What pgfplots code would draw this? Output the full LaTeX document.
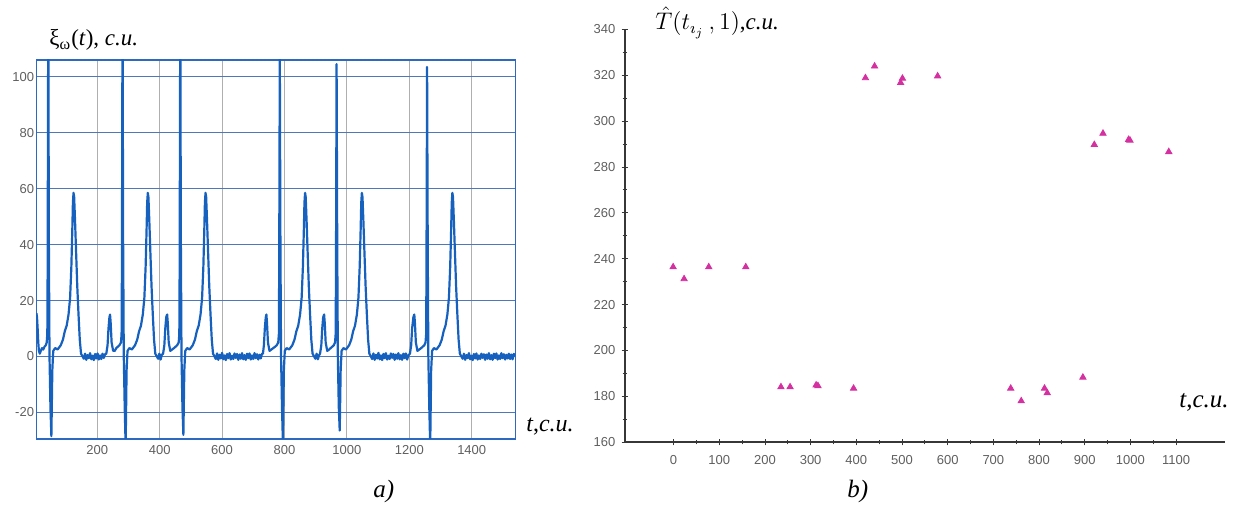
\documentclass[border=0pt]{standalone}
\usepackage{pgfplots}
\pgfplotsset{compat=1.18}
\usepackage{pgfplotstable}
\usepackage{fontspec}
\setmainfont{Liberation Serif}
\newfontfamily\arial{Liberation Sans}
\definecolor{ecg}{RGB}{22,96,190}
\definecolor{boxblue}{RGB}{45,105,190}
\definecolor{hgrid}{RGB}{80,120,185}
\definecolor{vgrid}{RGB}{175,175,175}
\definecolor{tickgray}{RGB}{95,95,95}
\definecolor{mag}{RGB}{212,48,160}
\definecolor{axdark}{RGB}{55,55,55}

\pgfplotstableread{
t v
5 15.5
7 14
9 10
11 5
13 2
16 1
19 2
23 3
27 2.5
31 3.5
35 4
38 5
40 8
41 30
43 125
45 40
47 0
50 -18
53 -28.5
56 -5
59 2
65 3
73 2.5
83 4
90 6
96 9
102 11
108 15
113 21
117 32
120 45
122 55
124 58.5
126 57
129 48
132 38
136 25
140 15
144 6
148 1
153 0
157 -0.8
161 1.0
165 -1.2
169 0.5
173 -0.6
177 1.2
181 -1.0
185 0.3
189 -1.3
193 0.9
197 -0.7
201 1.1
205 -1.1
209 0.4
213 -0.9
217 1.0
221 -0.5
225 0.8
229 1
233 4
236 10
239 14
241 15
243 12
246 5
251 2
256 2
261 3
266 3.5
271 4
276 5
278 8
279 30
281 125
283 40
285 0
288 -18
291 -32
294 -5
297 2
303 3
311 2.5
321 4
328 6
334 9
340 11
346 15
351 21
355 32
358 45
360 55
362 58.5
364 57
367 48
370 38
374 25
378 15
382 6
386 1
391 0
395 -0.8
399 1.0
403 -1.1
407 0.6
411 1
415 4
418 10
421 14
424 15
426 12
429 5
434 2
440 2.5
446 3
451 3.5
456 4
461 5
463 8
464 30
466 125
468 40
470 0
473 -18
476 -28
479 -5
482 2
488 3
496 2.5
506 4
513 6
519 9
525 11
531 15
536 21
540 32
543 45
545 55
547 58.5
549 57
552 48
555 38
559 25
563 15
567 6
571 1
576 0
580 -0.9
584 1.1
588 -1.2
592 0.6
596 -0.7
600 1.3
604 -1.0
608 0.4
612 -1.3
616 0.9
620 -0.6
624 1.2
628 -1.1
632 0.3
636 -0.9
640 1.1
644 -0.5
648 0.9
652 -1.2
656 0.7
660 -0.8
664 1.2
668 -1.0
672 0.5
676 -1.2
680 1.0
684 -0.6
688 1.1
692 -1.1
696 0.4
700 -0.9
704 1.2
708 -0.6
712 0.8
716 -1.1
720 0.6
724 -0.7
728 1.0
731 1
734 4
737 10
740 14
742 15
744 12
747 5
752 2
758 2.5
764 3
770 3.5
775 4
780 5
782 8
783 30
785 108
787 40
789 0
792 -18
795 -31
798 -5
801 2
807 3
815 2.5
825 4
832 6
838 9
844 11
850 15
855 21
859 32
862 45
864 55
866 58.5
868 57
871 48
874 38
878 25
882 15
886 6
890 1
895 0
899 -0.8
903 1.0
907 -1.0
911 0.5
914 1
918 4
921 10
924 14
927 15
929 12
932 5
937 2
943 2.5
948 3
953 3.5
958 4
962 5
964 8
965 30
967 104.5
969 40
971 0
974 -18
977 -26.5
980 -5
983 2
989 3
997 2.5
1007 4
1014 6
1020 9
1026 11
1032 15
1037 21
1041 32
1044 45
1046 55
1048 58.5
1050 57
1053 48
1056 38
1060 25
1064 15
1068 6
1072 1
1077 0
1081 -0.9
1085 1.1
1089 -1.2
1093 0.6
1097 -0.7
1101 1.3
1105 -1.0
1109 0.4
1113 -1.3
1117 0.9
1121 -0.6
1125 1.2
1129 -1.1
1133 0.3
1137 -0.9
1141 1.1
1145 -0.5
1149 0.9
1153 -1.2
1157 0.7
1161 -0.8
1165 1.2
1169 -1.0
1173 0.5
1177 -1.2
1181 1.0
1185 -0.6
1189 1.1
1193 -1.1
1197 0.4
1202 1
1206 4
1209 10
1213 14
1216 15
1218 12
1221 5
1226 2
1232 2.5
1238 3
1243 3.5
1248 4
1252 5
1254 8
1255 30
1257 103.5
1259 40
1261 0
1264 -18
1267 -32
1270 -5
1273 2
1279 3
1287 2.5
1297 4
1304 6
1310 9
1316 11
1322 15
1327 21
1331 32
1334 45
1336 55
1338 58.5
1340 57
1343 48
1346 38
1350 25
1354 15
1358 6
1362 1
1367 0
1371 -0.8
1375 1.0
1379 -1.2
1383 0.5
1387 -0.6
1391 1.2
1395 -1.0
1399 0.3
1403 -1.3
1407 0.9
1411 -0.7
1415 1.1
1419 -1.1
1423 0.4
1427 -0.9
1431 1.0
1435 -0.5
1439 0.8
1443 -1.2
1447 0.7
1451 -0.8
1455 1.2
1459 -1.0
1463 0.5
1467 -1.2
1471 1.0
1475 -0.6
1479 1.1
1483 -1.1
1487 0.4
1491 -0.9
1495 1.2
1499 -0.6
1503 0.8
1507 -1.1
1511 0.6
1515 -0.7
1519 1.0
1523 -0.9
1527 0.7
1531 -1.0
1535 0.9
1540 0.2
}\ecgdata

\pgfplotstableread{
t T
-1 236.4
23 231.2
77 236.4
158 236.4
235 184.1
255 184.1
312 184.9
316 184.6
394 183.5
420 318.8
440 323.9
497 316.7
501 318.6
578 319.6
738 183.5
761 178.0
812 183.5
818 181.5
896 188.3
921 289.7
940 294.6
996 291.9
999 291.6
1084 286.6
}\tdata

\begin{document}
\begin{tikzpicture}[x=1pt,y=1pt]
\useasboundingbox (0,0) rectangle (617.5,253);
\begin{axis}[
  at={(18.2pt,33.5pt)}, anchor=south west, scale only axis,
  width=239.5pt, height=189.5pt,
  xmin=5, xmax=1540, ymin=-29.5, ymax=106,
  xtick={200,400,600,800,1000,1200,1400},
  xticklabels={200,400,600,800,1000,1200,1400},
  ytick={-20,0,20,40,60,80,100},
  yticklabels={-20,0,20,40,60,80,100},
  xmajorgrids, ymajorgrids,
  x grid style={vgrid, line width=0.5pt},
  y grid style={hgrid, line width=0.5pt},
  major tick length=0pt,
  axis line style={boxblue, line width=0.6pt},
  tick label style={font=\arial\fontsize{6.5}{7}\selectfont, text=tickgray},
  yticklabel style={inner xsep=1pt},
  xticklabel style={inner ysep=3pt},
]
\addplot[ecg, line width=1.1pt, line join=round] table[x=t,y=v] {\ecgdata};
\end{axis}
\begin{axis}[
  at={(312.35pt,31.85pt)}, anchor=south west, scale only axis,
  width=300.35pt, height=206.5pt,
  xmin=-107, xmax=1208, ymin=160, ymax=340,
  axis lines=left,
  axis line style={-, axdark, line width=1pt},
  xtick={0,100,...,1100},
  xticklabels={0,100,200,300,400,500,600,700,800,900,1000,1100},
  ytick={160,180,...,340},
  yticklabels={160,180,200,220,240,260,280,300,320,340},
  minor tick num=1,
  tick style={axdark, line width=0.4pt},
  major tick length=3pt, minor tick length=2pt,
  tick label style={font=\arial\fontsize{6.5}{7}\selectfont, text=tickgray},
  xticklabel style={inner ysep=5pt},
  yticklabel style={inner xsep=3pt},
  clip=false,
]
\addplot[only marks, mark=triangle*, mark size=1.8pt, mag, mark options={fill=mag, draw=mag}] table[x=t,y=T] {\tdata};
\end{axis}
\node[anchor=base west, inner sep=0] at (24.5,230) {\fontsize{11.5}{12}\selectfont ξ\textsubscript{ω}(\textit{t}), \textit{c.u.}};
\node[anchor=base west, inner sep=0] at (263,37) {\fontsize{12}{13}\selectfont \textit{t},\textit{c.u.}};
\node[anchor=base west, inner sep=0] at (186.5,4) {\fontsize{12.5}{13}\selectfont \textit{a)}};
\node[anchor=base west, inner sep=0] at (327.5,238) {\fontsize{11.5}{12}\selectfont $\hat{T}(t_{\imath_{j}}\,,1)$,\textit{c.u.}};
\node[anchor=base west, inner sep=0] at (589.5,49) {\fontsize{12.5}{13}\selectfont \textit{t},\textit{c.u.}};
\node[anchor=base west, inner sep=0] at (423.5,4) {\fontsize{12.5}{13}\selectfont \textit{b)}};
\end{tikzpicture}
\end{document}
